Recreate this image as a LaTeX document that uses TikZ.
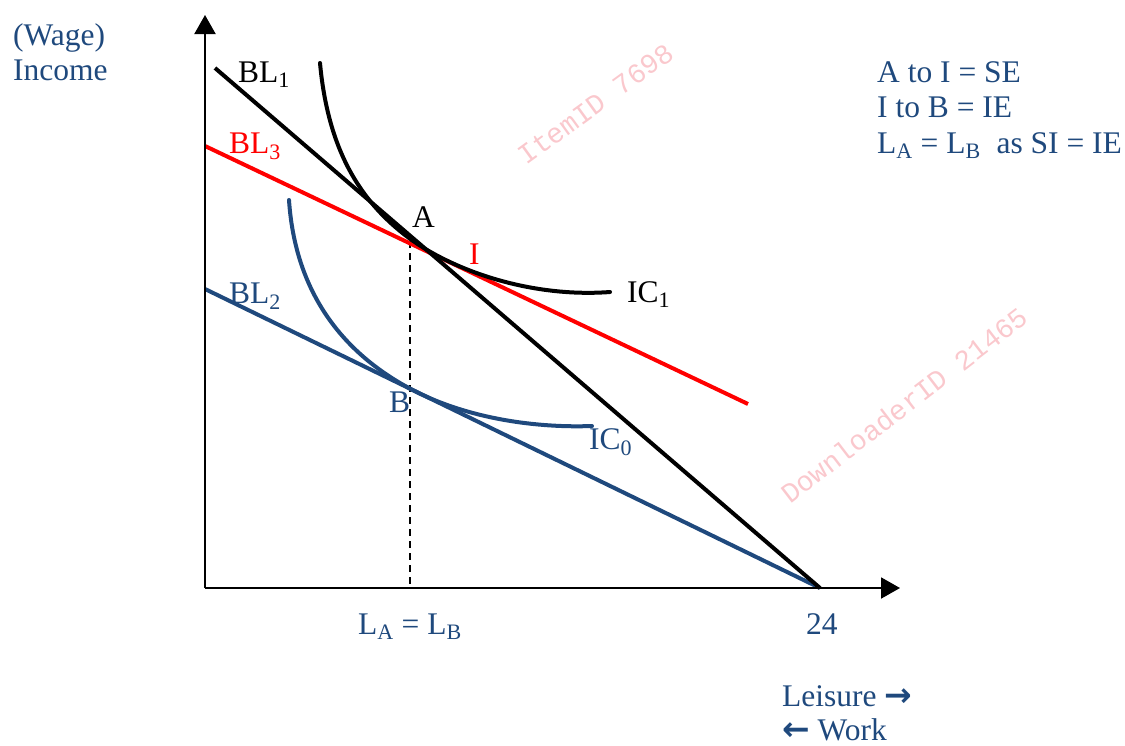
\documentclass[tikz,border=0pt]{standalone}
\usepackage{fontspec}
\setmainfont{Liberation Serif}
\newfontfamily\arrfont{DejaVu Sans}
\newfontfamily\wmfont{Liberation Mono}
\usetikzlibrary{arrows.meta}
\definecolor{dblue}{RGB}{31,73,125}
\definecolor{wmpink}{RGB}{250,200,205}
\tikzset{
  lbl/.style={anchor=base west,inner sep=0pt,font=\fontsize{31.5}{35}\selectfont},
  axis/.style={line width=2pt,-{Triangle[length=19pt,width=21pt]}},
  budget/.style={line width=4pt},
  indiff/.style={line width=4pt,line cap=round},
  wm/.style={inner sep=0pt,font=\wmfont\fontsize{28}{28}\selectfont,text=wmpink}
}
\newcommand{\bigarr}[1]{{\arrfont\bfseries\fontsize{33}{33}\selectfont #1}}
\begin{document}
\begin{tikzpicture}[x=1pt,y=-1pt]
\useasboundingbox (0,0) rectangle (1125,745);
% watermarks
\node[wm,rotate=36] (wm1) at (596,104) {ItemID 7698};
\node[wm,rotate=37.5] (wm2) at (904,405) {DownloaderID 21465};
% coordinates
\coordinate (O) at (205,588);
\coordinate (Ytop) at (205,15);
\coordinate (Xend) at (900,588);
\coordinate (BL1s) at (215,68);
\coordinate (E24) at (820,588);
\coordinate (BL3s) at (205,146);
\coordinate (BL3e) at (748,404);
\coordinate (BL2s) at (205,289);
\coordinate (Atop) at (410,241);
\coordinate (Abot) at (410,588);
\coordinate (IC1s) at (320,63);
\coordinate (IC1m) at (405,235);
\coordinate (IC1e) at (610,292);
\coordinate (IC0s) at (289,200);
\coordinate (IC0m) at (407,387);
\coordinate (IC0e) at (592,426);
% dashed
\draw[line width=1.5pt,dash pattern=on 7pt off 5pt] (Atop) -- (Abot);
% budget lines
\draw[budget,red] (BL3s) -- (BL3e);
\draw[budget,dblue] (BL2s) -- (E24);
\draw[budget,black] (BL1s) -- (E24);
% indifference curves
\draw[indiff,black] (IC1s) .. controls (328,150) and (360,200) .. (IC1m)
                           .. controls (450,270) and (530,298) .. (IC1e);
\draw[indiff,dblue] (IC0s) .. controls (295,290) and (340,350) .. (IC0m)
                           .. controls (467,420) and (540,428) .. (IC0e);
% axes
\draw[axis] (O) -- (Ytop);
\draw[axis] (O) -- (Xend);
% labels
\node[lbl,text=dblue] (t1) at (13,45) {(Wage)};
\node[lbl,text=dblue] (t2) at (13,80) {Income};
\node[lbl] (bl1) at (238,82) {BL\textsubscript{1}};
\node[lbl,text=red] (bl3) at (229,153) {BL\textsubscript{3}};
\node[lbl,text=dblue] (bl2) at (229,303) {BL\textsubscript{2}};
\node[lbl] (la) at (412,227) {A};
\node[lbl,text=red] (li) at (469,264) {I};
\node[lbl] (ic1) at (627,302) {IC\textsubscript{1}};
\node[lbl,text=dblue] (lb) at (389,412) {B};
\node[lbl,text=dblue] (ic0) at (589,449) {IC\textsubscript{0}};
\node[lbl,text=dblue] (lalb) at (358,634) {L\textsubscript{A} = L\textsubscript{B}};
\node[lbl,text=dblue] (l24) at (806,634) {24};
\node[lbl,text=dblue] (leis) at (782,706) {Leisure \bigarr{→}};
\node[lbl,text=dblue] (work) at (782,740) {\bigarr{←} Work};
\node[lbl,text=dblue] (r1) at (877,82) {A to I = SE};
\node[lbl,text=dblue] (r2) at (877,117) {I to B = IE};
\node[lbl,text=dblue] (r3) at (877,153) {L\textsubscript{A} = L\textsubscript{B}\ \ as SI = IE};
\end{tikzpicture}
\end{document}
